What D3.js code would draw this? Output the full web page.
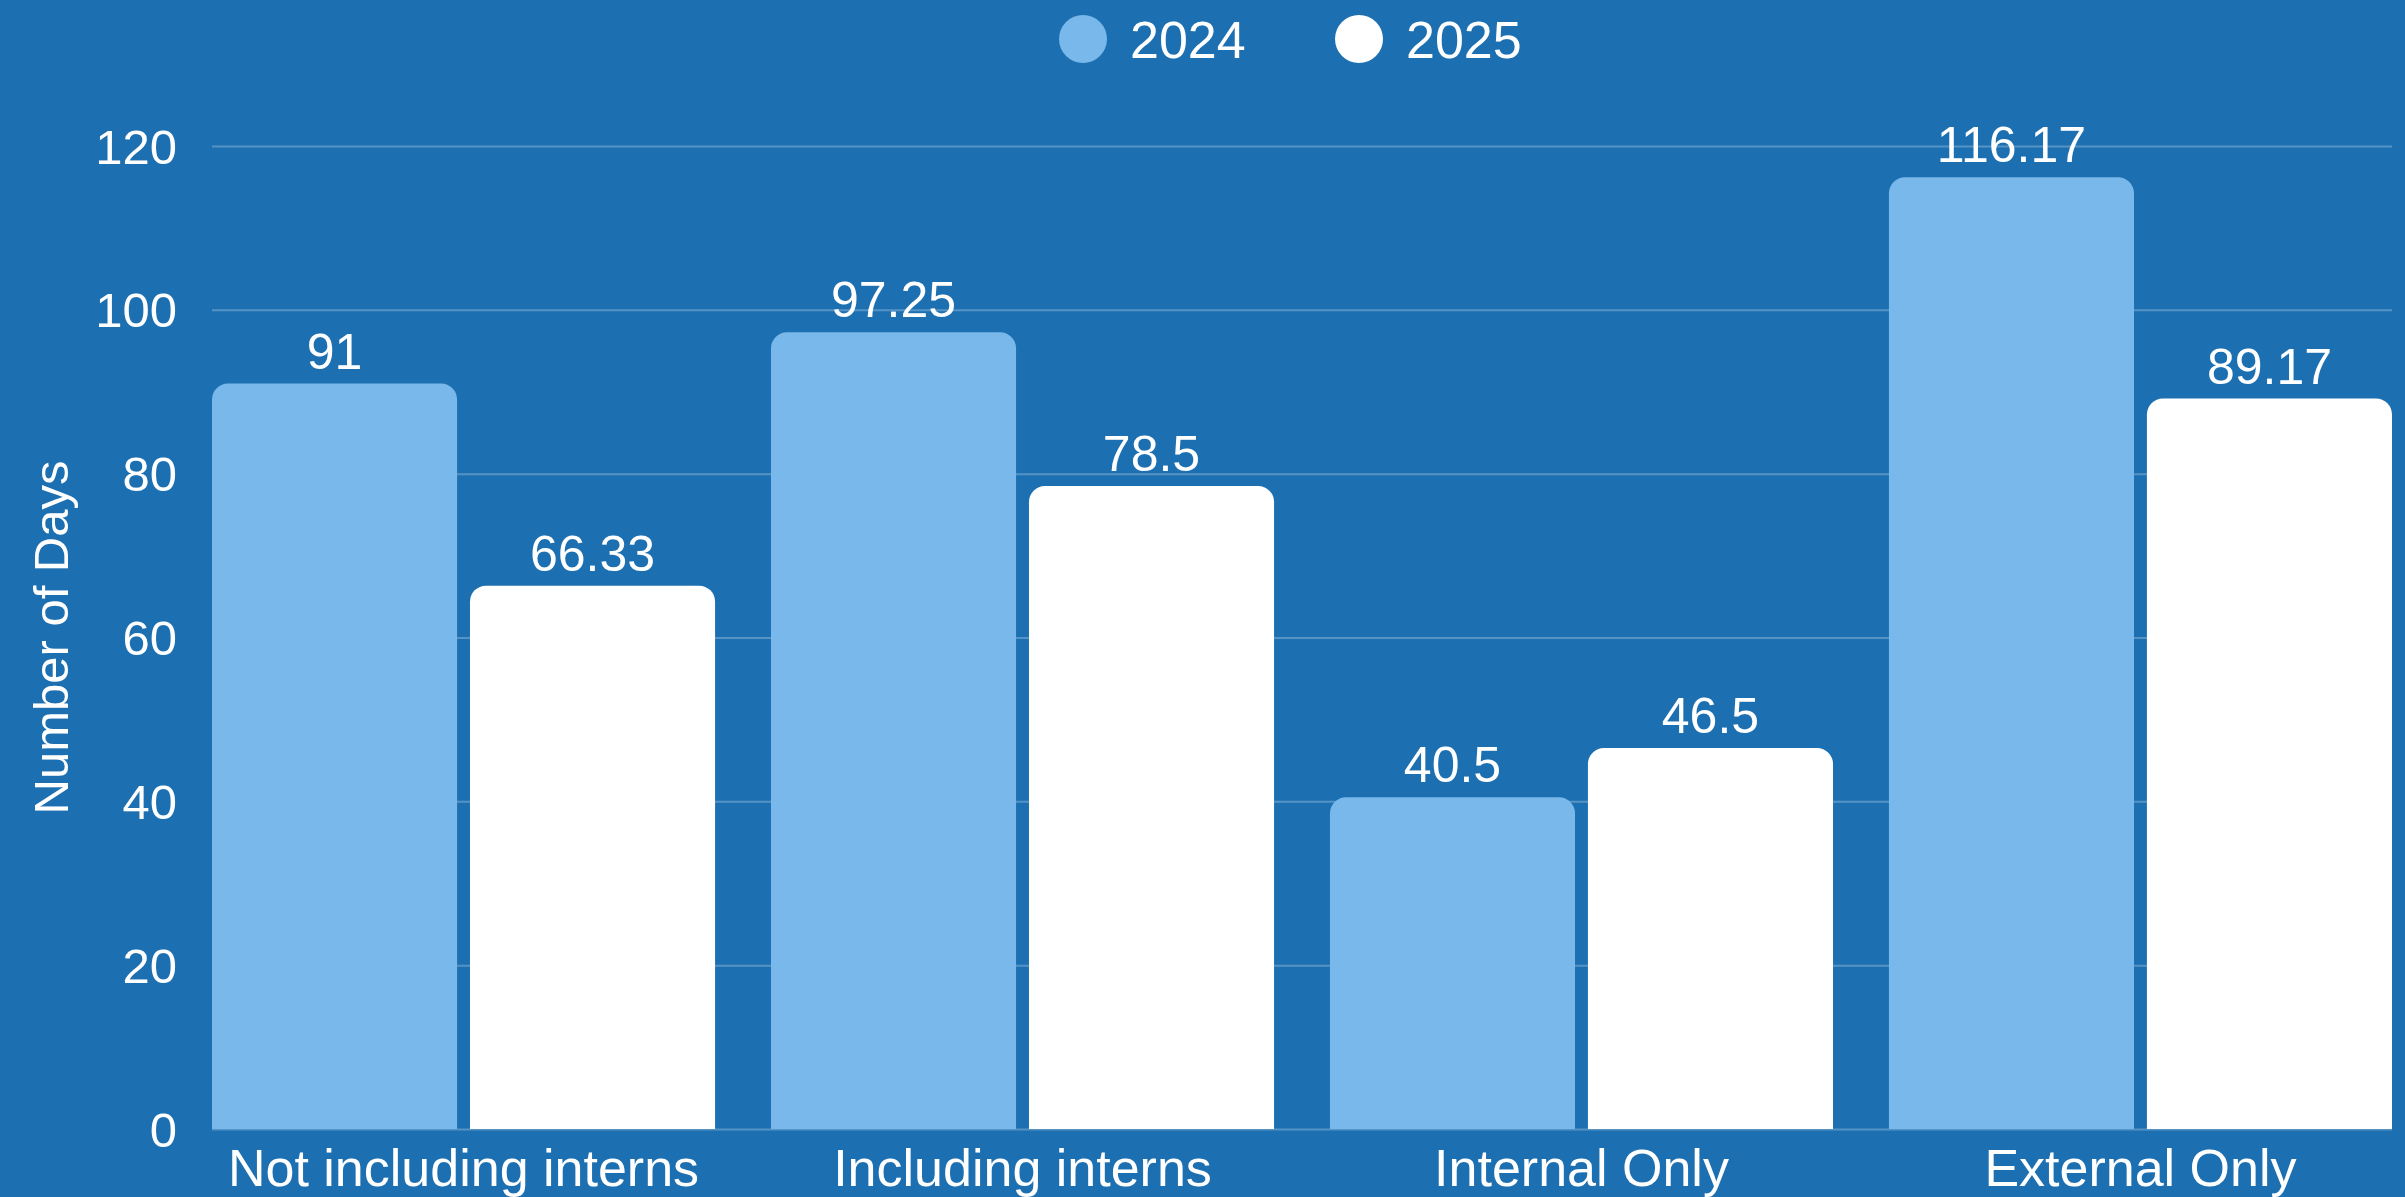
<!DOCTYPE html>
<html>
<head>
<meta charset="utf-8">
<script src="https://cdn.jsdelivr.net/npm/d3@7"></script>
<style>
  html, body { margin: 0; padding: 0; background: #1c6fb0; }
  svg { display: block; }
</style>
</head>
<body>
<div id="chart"></div>
<script>
const categories = ['Not including interns', 'Including interns', 'Internal Only', 'External Only'];
const seriesNames = ['2024', '2025'];
const values2024 = [91, 97.25, 40.5, 116.17];
const values2025 = [66.33, 78.5, 46.5, 89.17];
const yTicks = [0, 20, 40, 60, 80, 100, 120];
const labels2024 = ['91', '97.25', '40.5', '116.17'];
const labels2025 = ['66.33', '78.5', '46.5', '89.17'];

const width = 2405;
const height = 1197;
const margin = {top: 146, right: 13, bottom: 68, left: 212};
const bg = '#1c6fb0';
const colors = {'2024': '#78b8ea', '2025': '#ffffff'};
const numFont = '"Liberation Sans", Arial, sans-serif';
const catFont = '"Liberation Sans Narrow", "Liberation Sans", sans-serif';

const rows = categories.map((c, i) => ({
    category: c,
    bars: [
        {series: '2024', value: values2024[i], label: labels2024[i]},
        {series: '2025', value: values2025[i], label: labels2025[i]}
    ]
}));

const svg = d3.select('#chart').append('svg')
    .attr('width', width)
    .attr('height', height);

svg.append('rect')
    .attr('width', width)
    .attr('height', height)
    .attr('fill', bg);

const x0 = d3.scaleBand()
    .domain(categories)
    .range([margin.left, width - margin.right])
    .paddingInner(0.1)
    .paddingOuter(0);

const x1 = d3.scaleBand()
    .domain(seriesNames)
    .range([0, x0.bandwidth()])
    .paddingInner(0.05);

const y = d3.scaleLinear()
    .domain([0, 120])
    .range([height - margin.bottom, margin.top]);

// gridlines
svg.append('g')
    .selectAll('line')
    .data(yTicks)
    .enter()
    .append('line')
    .attr('x1', margin.left)
    .attr('x2', width - margin.right)
    .attr('y1', d => y(d) + 0.5)
    .attr('y2', d => y(d) + 0.5)
    .attr('stroke', 'rgba(255,255,255,0.25)')
    .attr('stroke-width', 2);

// y tick labels
svg.append('g')
    .selectAll('text')
    .data(yTicks)
    .enter()
    .append('text')
    .attr('x', 177)
    .attr('y', d => y(d))
    .attr('dy', '0.36em')
    .attr('text-anchor', 'end')
    .attr('fill', '#fff')
    .style('font-family', numFont)
    .style('font-size', '49px')
    .text(d => d);

// y title
svg.append('text')
    .attr('transform', `translate(50,${(y(0) + y(120)) / 2}) rotate(-90)`)
    .attr('dy', '0.36em')
    .attr('text-anchor', 'middle')
    .attr('fill', '#fff')
    .style('font-family', numFont)
    .style('font-size', '49px')
    .text('Number of Days');

const r = 16;
function topRounded(x, yTop, w, yBase) {
    const h = yBase - yTop;
    const rr = Math.min(r, h, w / 2);
    return `M${x},${yBase}V${yTop + rr}A${rr},${rr} 0 0 1 ${x + rr},${yTop}` +
        `H${x + w - rr}A${rr},${rr} 0 0 1 ${x + w},${yTop + rr}V${yBase}Z`;
}

const group = svg.append('g')
    .selectAll('g')
    .data(rows)
    .enter()
    .append('g')
    .attr('transform', d => `translate(${x0(d.category)},0)`);

group.selectAll('path')
    .data(d => d.bars)
    .enter()
    .append('path')
    .attr('fill', d => colors[d.series])
    .attr('d', d => topRounded(x1(d.series), y(d.value), x1.bandwidth(), y(0)));

group.selectAll('text.val')
    .data(d => d.bars)
    .enter()
    .append('text')
    .attr('class', 'val')
    .attr('x', d => x1(d.series) + x1.bandwidth() / 2)
    .attr('y', d => y(d.value) - 15)
    .attr('text-anchor', 'middle')
    .attr('fill', '#fff')
    .style('font-family', numFont)
    .style('font-size', '50px')
    .text(d => d.label);

// category labels
svg.append('g')
    .selectAll('text')
    .data(categories)
    .enter()
    .append('text')
    .attr('x', d => x0(d) + x0.bandwidth() / 2)
    .attr('y', 1186)
    .attr('text-anchor', 'middle')
    .attr('fill', '#fff')
    .style('font-family', catFont)
    .style('font-size', '52px')
    .text(d => d);

// legend
const legend = svg.append('g')
    .selectAll('g')
    .data(seriesNames)
    .enter()
    .append('g')
    .attr('transform', (d, i) => `translate(${1083 + i * 276},39)`);

legend.append('circle')
    .attr('r', 24)
    .attr('fill', d => colors[d]);

legend.append('text')
    .attr('x', 47)
    .attr('dy', '0.36em')
    .attr('fill', '#fff')
    .style('font-family', numFont)
    .style('font-size', '52px')
    .text(d => d);
</script>
</body>
</html>
